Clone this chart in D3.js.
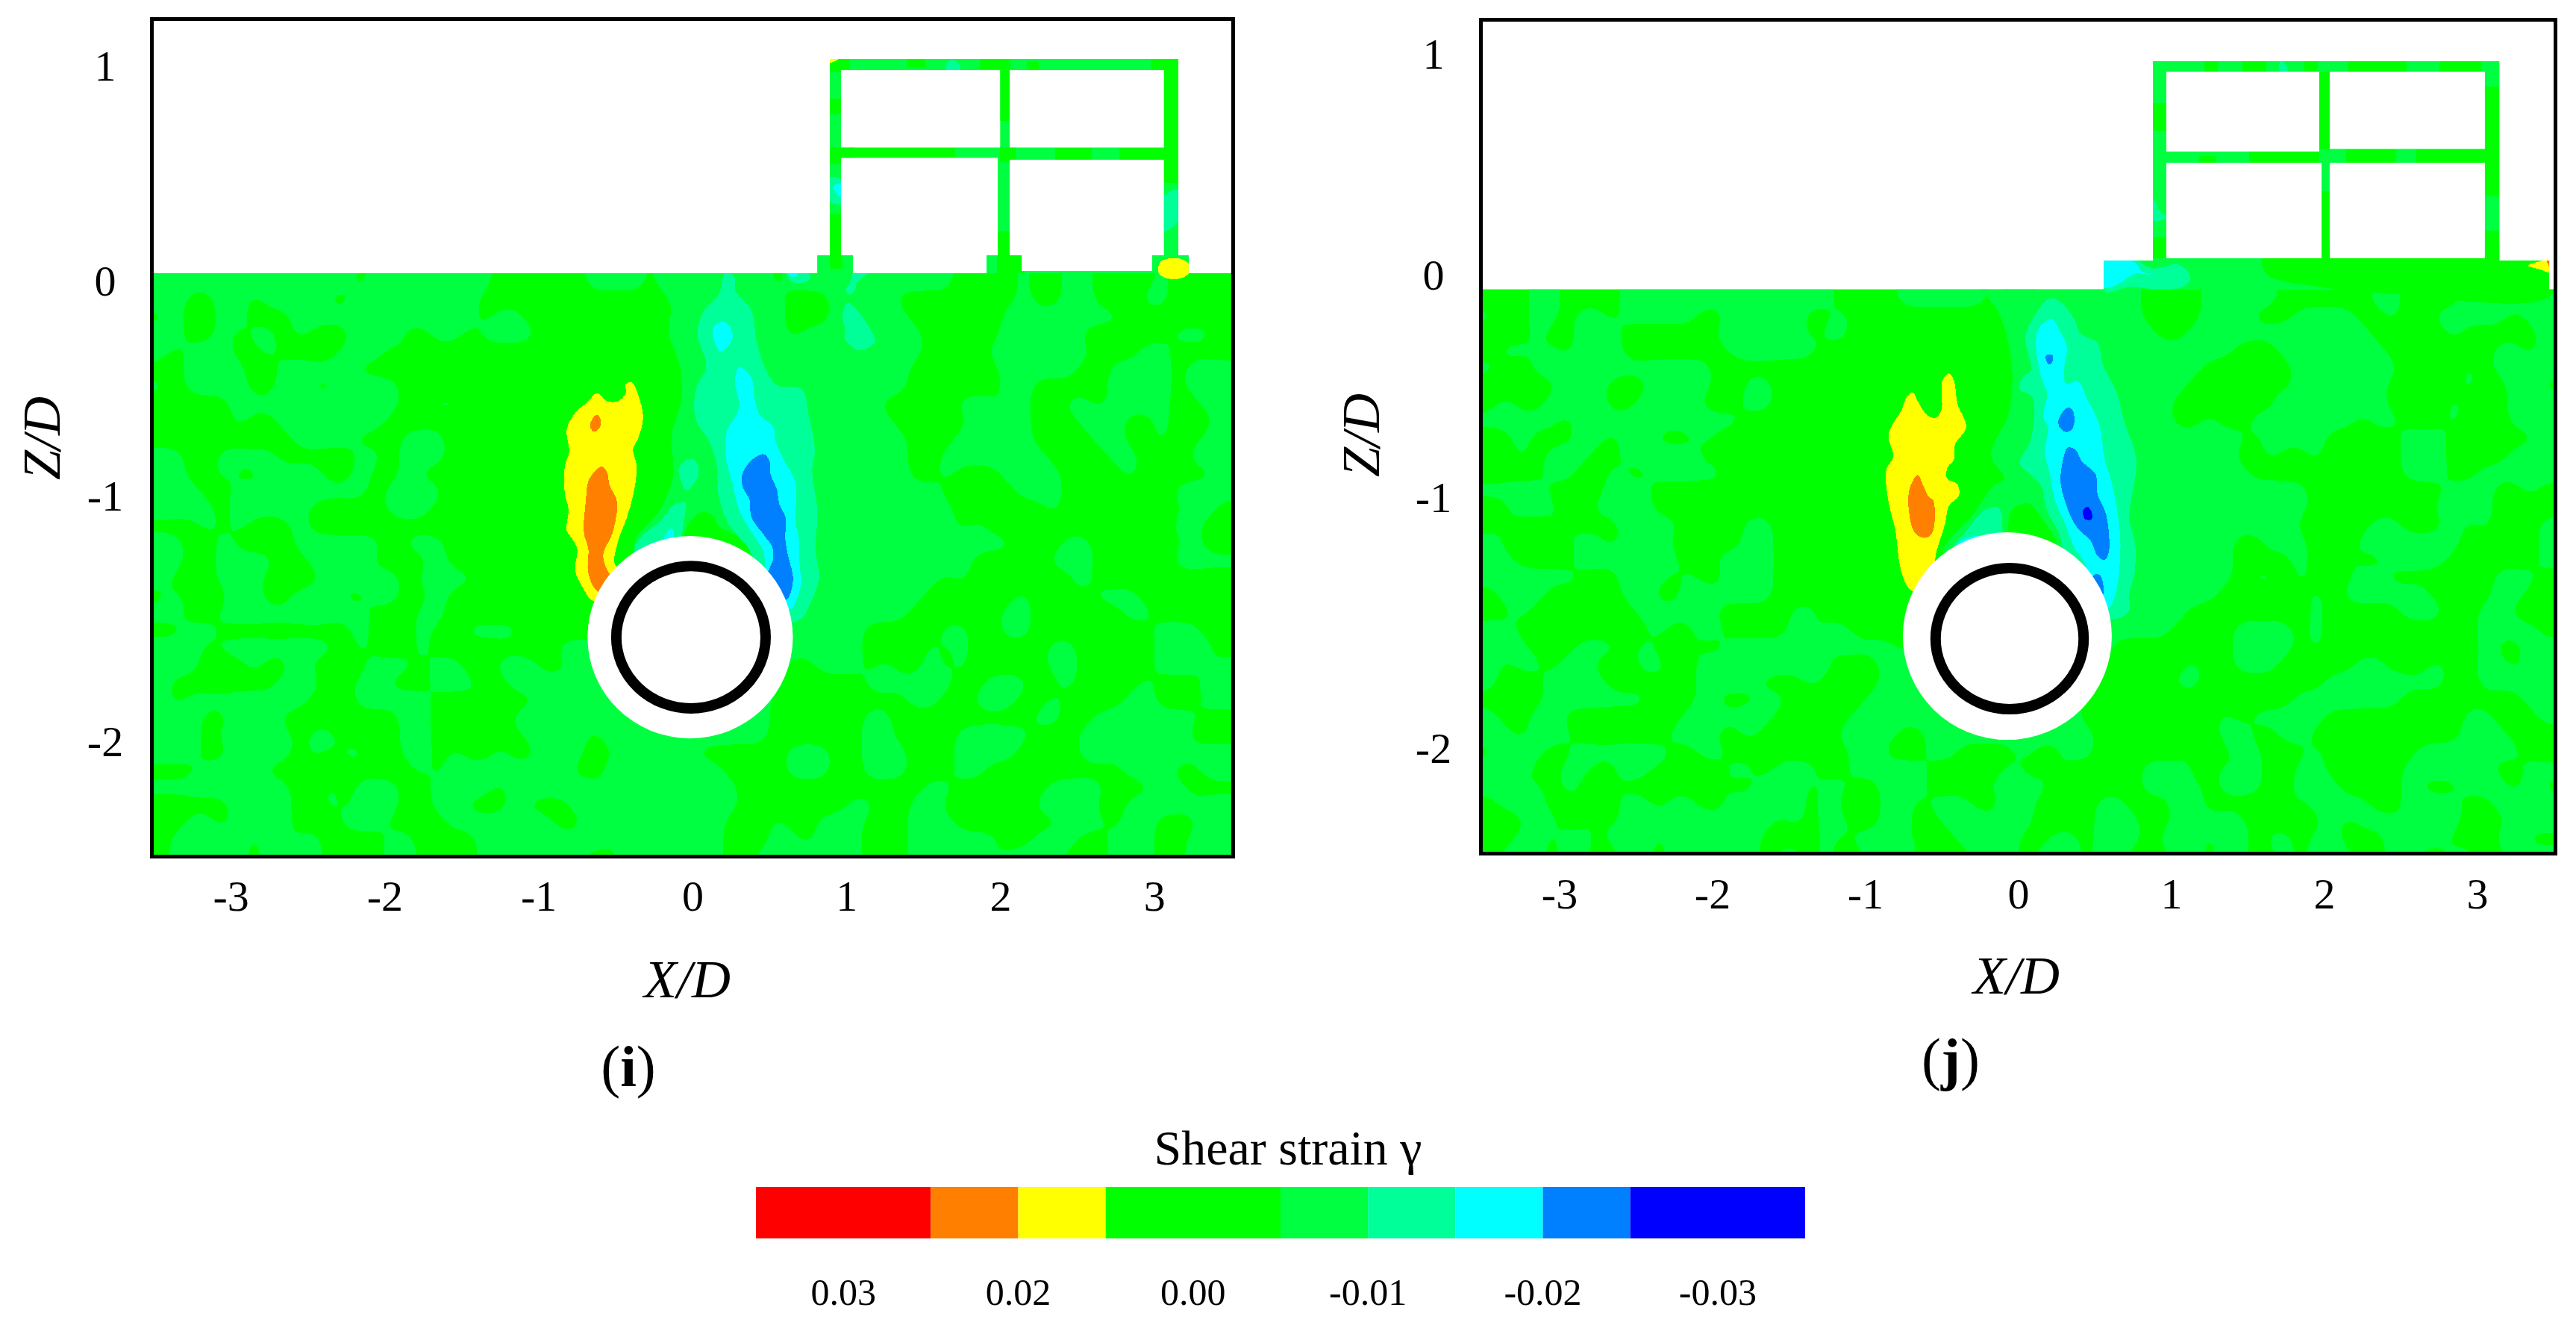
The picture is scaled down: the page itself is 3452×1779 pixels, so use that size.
<!DOCTYPE html>
<html>
<head>
<meta charset="utf-8">
<script src="https://cdn.jsdelivr.net/npm/d3@7"></script>
<style>
  body { margin: 0; background: #fff; }
  text { font-family: "Liberation Serif", serif; fill: #000; }
</style>
</head>
<body>
<div id="chart"></div>
<script>
// Shear strain bands, in legend order
var bandColors = ["#ff0000", "#ff8000", "#ffff00", "#00ff00", "#00ff40", "#00ff99", "#00ffff", "#0080ff", "#0000ff"];
var legendSpans = [2, 1, 1, 2, 1, 1, 1, 1, 2];
var legendLabels = ["0.03", "0.02", "0.00", "-0.01", "-0.02", "-0.03"];
var xTicks = [-3, -2, -1, 0, 1, 2, 3];
var zTicks = [1, 0, -1, -2];

// Background field, 0 = band 0.00, 1 = next band.
// One row per 0.075 Z/D, one column per 0.1 X/D, X/D < 0 and X/D > 0 kept apart
var fieldLeftI = [
"11111111111110111111110000001111011",
"11001101111001111111100000100000000",
"01001100011111111111101100000000000",
"11001011010001110011011110000000000",
"10111001000011101000000000000000000",
"00111100111110000000000000000000000",
"10111100110011110000000000000000000",
"00000111111111110011000000000000000",
"00000100111111100000000000000000000",
"00000000011110001110000000000000000",
"11001111000001101110000000000000000",
"11001001111001001000000000000000000",
"11100110111111011110000000000000000",
"11110111110000011100000000000000000",
"00010100010000000000000000000000000",
"11001000011111101110000000000000000",
"11001111001111000010000000000000000",
"10001110000111110111100000000000000",
"01000110011100110010000000000000000",
"11001111111111000110000000000000000",
"00110000000001010100111100000000000",
"11101111111101000100000000111111111",
"11100010010000111011001110011111111",
"10000000111001100011100111111111111",
"10111111110001111100010001111111111",
"11100111000000001100000111111111111",
"11101111101100001100000011110111111",
"11100111101011001101001001110011111",
"00011110000000000101111111100111111",
"11111111100101110011110111111011011",
"00000110100101110011000100011111111",
"00110111100011100001111111001111011",
"01111101011000011000010111111101111",
"01111101101000011010011011010011111"
];
var fieldRightI = [
"11111011111111111000010011000010000",
"11111100011110000000010011000110000",
"11111100011111000000111111110000000",
"11111101111111100000111110000001110",
"11111111111111100001111111000110000",
"11111111111111000000111110011110111",
"11111111111111000000110000011110111",
"11111111111100000111010011011110011",
"11111111111110000010110001110010001",
"11111111111111000111110000110010011",
"11111111111111001111111000011000111",
"11111111111111001000111100001000001",
"11111111111111110000011100000001111",
"11111111111111111000000100000000110",
"11111111111111111010000000000001100",
"11111111111111111111100011000000100",
"11111111111111111100000111000001111",
"11111111111111110100000001000000000",
"11111111111111100000010010111000000",
"11111111111111000000110000001100000",
"11111111111000001100110000000011100",
"11111111111000010100000110000011110",
"11111100111010010100000110000011101",
"11111100000111111001110010000100011",
"11111000000000110011100100001100011",
"11111000000110000000001100111111100",
"11111000000110000111110001111111000",
"00000011100111000111100001111111111",
"11000011100111000110000000001110011",
"11100000000000011000000111100011000",
"11100000001100110000001111001111111",
"11000100111000111000000011101100011",
"11000110111000111111001110011100111",
"11001111111000111110111100011100111"
];
var fieldLeftJ = [
"00011000011111111111111000011111101",
"10011011011111001111100100000000000",
"00010011100000011111101100000000000",
"01101011100000001111110000000000000",
"10011111111111100000000000000000000",
"00000111000111100110000000000000000",
"01001111001101000110000000000000000",
"11111011111111111000000000000000000",
"00100011011000100000000000000000000",
"00101110011111000000000000000000000",
"00001100100111110000000000000000000",
"11110000111000000000000000000000000",
"00111001111000010000000000000000000",
"01000100011110100110000000000000000",
"10001011011100000110000000000000000",
"11000011111110011110000000000000000",
"11111100011101001110000000000000000",
"01110010011001111110000000000000000",
"00100000001111100000110000000000000",
"11000000000100110000101100000000000",
"11100011101001001111110111101111111",
"10110110001100111111111000111111111",
"10001111000010111100010000111111111",
"00001111111000100011000001111111111",
"10011000000001111110000011111111111",
"11011100000011100100000111100111111",
"01110011111100110000000011000110000",
"11100110011010001101110011111000001",
"11010100100000010011101100111000011",
"01110010011011001111101000110111001",
"00011001011111111110101100110011111",
"00110110111011111100001011101001101",
"01110110011010101101101001110100111"
];
var fieldRightJ = [
"11111111000011111000000110000111111",
"11111111000011100011110010011111011",
"11111111100111111111111000001000001",
"11111111111111000111111100000001101",
"11111111111100000011111110000101111",
"11111111111000001011111100000100110",
"11111111110000000111111100001000111",
"11111111110010011111110110001000111",
"11111111111111101111000001110000001",
"11111111111111001001001001110000111",
"11111111111111100000000001110011111",
"11111111111111111110000000001110010",
"11111111111110111110010000011110000",
"11111111111111111100000110001010001",
"11111111111111001110001111111000001",
"11111111111111000010010011110000001",
"11111111111111011010001100000001110",
"11111111111110000001011111100001100",
"11111111111000000001000001110011000",
"11111111110000111101000000000011110",
"11111100000000111101000000000010011",
"11111100000100111000001100010011011",
"11111000001100000000111111110011111",
"11110000100000000011111110000000011",
"11110000000001011111000000000110001",
"11111000000001100110010000000111000",
"10011000000100110001000000111101100",
"00100000111001010011000001111110011",
"11000000111101110011100001000111010",
"10000110001100000101111001111001111",
"10000111001111100000101110111000111",
"00110111011101101101100011110001100",
"01110110001101100101110011001100111"
];

// Domain outlines and openings of the section, [X/D, Z/D]
var outlineI = [[-3.5,0],[.812,0],[.812,.077],[.892,.077],[.892,.921],[3.156,.921],[3.156,.077],[3.223,.077],[3.223,0],[3.5,0],[3.5,-2.5],[-3.5,-2.5]];
var holesI = [
  [[.965,.873],[2.000,.873],[2.000,.540],[.965,.540]],
  [[2.060,.873],[3.063,.873],[3.063,.540],[2.060,.540]],
  [[.965,.497],[1.983,.497],[1.983,.077],[1.910,.077],[1.910,0],[1.042,0],[1.042,.077],[.965,.077]],
  [[2.060,.489],[3.063,.489],[3.063,.077],[2.986,.077],[2.986,.010],[2.138,.010],[2.138,.077],[2.060,.077]]
];
var outlineJ = [[-3.5,-.073],[.560,-.073],[.560,.051],[.881,.051],[.881,.908],[3.145,.908],[3.145,.051],[3.471,.051],[3.471,-.073],[3.5,-.073],[3.5,-2.49],[-3.5,-2.49]];
var holesJ = [
  [[.968,.863],[1.968,.863],[1.968,.520],[.968,.520]],
  [[2.035,.863],[3.051,.863],[3.051,.530],[2.035,.530]],
  [[.968,.472],[1.983,.472],[1.983,.061],[.968,.061]],
  [[2.035,.472],[3.051,.472],[3.051,.061],[2.035,.061]]
];

// Band 0.00 patches in the structure, [x0, x1, z0, z1]
var patchesI = [
  [.892,1.023,.867,.921],[.892,.965,.682,.752],[.892,1.05,.468,.543],[.892,.965,.077,.254],
  [1.396,1.511,.886,.921],[1.865,2.066,.875,.921],[2.172,2.248,.873,.912],[2.976,3.156,.873,.921],
  [1.999,2.060,.656,.873],[1.999,2.100,.479,.543],[1.983,2.060,.077,.180],
  [.965,1.706,.497,.540],[2.354,2.593,.489,.540],[2.775,3.063,.489,.540],[3.063,3.156,.388,.873],
  [.892,.974,.020,.077],[1.98,2.15,0,.077]
];
var patchesJ = [
  [.881,.968,.610,.728],[.881,.968,.061,.150],
  [1.216,1.303,.864,.908],[1.467,1.620,.864,.908],[1.871,1.958,.864,.908],[2.155,2.537,.864,.908],[2.755,3.028,.864,.908],
  [1.968,2.035,.530,.863],[1.983,2.035,.061,.35],
  [1.183,1.292,.472,.50],[1.510,1.968,.472,.520],[2.144,2.47,.472,.530],[2.60,3.051,.472,.530],
  [3.051,3.145,.326,.80],[3.051,3.145,.128,.18]
];

// Traced band outlines for panel (i)
var lightWedgeI = [[-.256,.01],[-.143,-.142],[-.155,-.256],[-.079,-.407],[-.071,-.545],[-.135,-.694],[-.127,-.877],[-.208,-1.014],[-.378,-1.163],[-.3,-1.3],[.1,-1.3],[.1,.01]];
var pocketI = [[-.055,-1.129],[.010,-1.049],[.075,-1.026],[.139,-1.049],[.172,-1.089],[.285,-1.129],[.374,-1.198],[.026,-1.244]];
var haloI = [[.213,0],[.269,-.013],[.281,-.078],[.382,-.158],[.416,-.288],[.472,-.409],[.551,-.482],[.709,-.498],[.755,-.611],[.795,-.757],[.777,-.854],[.811,-1.016],[.800,-1.193],[.822,-1.315],[.754,-1.436],[.721,-1.476],[.653,-1.501],[.461,-1.436],[.382,-1.201],[.235,-1.080],[.168,-.951],[.156,-.821],[.111,-.725],[.021,-.627],[.021,-.498],[.089,-.401],[.032,-.256],[.077,-.158],[.168,-.094]];
var haloLeftI = [[-.378,-1.198],[-.345,-1.141],[-.200,-1.060],[-.135,-1.003],[-.047,-.986],[-.055,-1.060],[-.079,-1.135],[-.135,-1.175],[-.329,-1.244]];
var haloBlobI = [[-.087,-.831],[-.006,-.797],[.039,-.831],[.026,-.888],[-.038,-.934],[-.071,-.900]];
var haloTopAI = [[.610,.01],[.744,.01],[.763,-.024],[.725,-.040],[.648,-.037],[.614,-.013]];
var haloTopBI = [[1.051,.01],[1.156,.01],[1.070,-.040],[1.055,-.072],[1.016,-.093],[.997,-.072],[1.022,-.040]];
var haloTopCI = [[1.003,-.128],[1.036,-.136],[1.099,-.184],[1.175,-.265],[1.185,-.297],[1.080,-.332],[.993,-.286],[.990,-.238],[.974,-.190]];
var haloColRI = [[3.063,.329],[3.101,.351],[3.155,.358],[3.155,.228],[3.063,.180]];
var haloColLI = [[.892,.410],[.965,.404],[.965,.297],[.892,.310]];
var haloBeamI = [[1.654,.907],[1.712,.912],[1.741,.873],[1.654,.873]];
var cyanI = [[.303,-.404],[.382,-.450],[.405,-.547],[.439,-.611],[.524,-.660],[.540,-.725],[.596,-.805],[.669,-.902],[.669,-1.080],[.687,-1.121],[.698,-1.274],[.709,-1.323],[.675,-1.404],[.642,-1.444],[.518,-1.404],[.472,-1.258],[.461,-1.194],[.382,-1.113],[.303,-1.016],[.258,-.902],[.213,-.773],[.224,-.676],[.303,-.579],[.276,-.466]];
var cyanTopI = [[.190,-.207],[.235,-.223],[.262,-.272],[.224,-.320],[.179,-.337],[.145,-.296],[.134,-.239]];
var cyanLeftI = [[-.184,-1.141],[-.135,-1.095],[-.119,-1.135],[-.150,-1.17]];
var cyanSurfI = [[.620,.01],[.687,.01],[.668,-.016],[.633,-.013]];
var cyanColI = [[.917,.375],[.965,.383],[.965,.329],[.945,.335]];
var blueI = [[.461,-.778],[.499,-.805],[.506,-.862],[.551,-.935],[.563,-.991],[.603,-1.048],[.603,-1.145],[.619,-1.210],[.653,-1.307],[.642,-1.363],[.608,-1.404],[.472,-1.339],[.524,-1.226],[.518,-1.177],[.472,-1.132],[.382,-1.048],[.371,-.975],[.326,-.919],[.321,-.870],[.382,-.805]];
var yellowI = [[-.620,-.516],[-.556,-.550],[-.483,-.550],[-.434,-.516],[-.434,-.476],[-.394,-.470],[-.345,-.539],[-.321,-.625],[-.354,-.711],[-.386,-.757],[-.362,-.831],[-.386,-.957],[-.426,-1.049],[-.483,-1.152],[-.507,-1.244],[-.459,-1.301],[-.572,-1.370],[-.644,-1.410],[-.717,-1.347],[-.762,-1.278],[-.749,-1.186],[-.782,-1.141],[-.817,-1.106],[-.806,-1.014],[-.830,-.946],[-.830,-.831],[-.801,-.768],[-.817,-.671],[-.757,-.596],[-.685,-.556]];
var yellowFootI = [[3.043,.051],[3.158,.064],[3.222,.040],[3.225,0],[3.158,-.024],[3.063,-.018],[3.024,.008]];
var yellowCornerI = [[.892,.921],[.949,.921],[.892,.905]];
var orangeI = [[-.588,-.831],[-.556,-.854],[-.539,-.911],[-.491,-.980],[-.520,-1.118],[-.580,-1.209],[-.547,-1.284],[-.459,-1.335],[-.612,-1.370],[-.677,-1.289],[-.677,-1.186],[-.706,-1.112],[-.693,-.980],[-.677,-.894],[-.628,-.848]];
var orangeTopI = [[-.620,-.608],[-.596,-.631],[-.604,-.665],[-.640,-.682],[-.665,-.659],[-.648,-.623]];

// Traced band outlines for panel (j)
var darkBaseJ = [[1.6,.07],[3.48,.07],[3.48,-.10],[2.4,-.09],[1.95,-.06],[1.63,-.01]];
var lightWedgeJ = [[-.24,-.05],[-.116,-.186],[-.041,-.403],[-.06,-.6],[-.178,-.786],[-.091,-.886],[-.166,-.919],[-.290,-1.036],[-.489,-1.203],[-.3,-1.3],[.1,-1.3],[.1,-.05]];
var pocketJ = [[-.066,-1.12],[-.041,-1.019],[0,-1.0],[.070,-.994],[.151,-1.053],[.254,-1.161],[.3,-1.25],[0,-1.25]];
var haloJ = [[.208,-.111],[.277,-.128],[.369,-.203],[.404,-.261],[.519,-.303],[.553,-.394],[.645,-.519],[.691,-.636],[.772,-.803],[.726,-1.053],[.765,-1.169],[.760,-1.294],[.726,-1.386],[.726,-1.453],[.668,-1.483],[.594,-1.486],[.323,-1.253],[.266,-1.119],[.185,-1.019],[.151,-.919],[.082,-.869],[.013,-.828],[.013,-.803],[.082,-.719],[.093,-.536],[.013,-.503],[.024,-.453],[.082,-.419],[.047,-.278],[.105,-.186]];
var haloLeftJ = [[-.427,-1.186],[-.340,-1.111],[-.215,-1.019],[-.128,-1.011],[-.108,-1.119],[-.190,-1.203],[-.390,-1.253]];
var haloSurfJ = [[.562,.052],[.772,.052],[.875,.017],[1.048,.034],[1.128,-.020],[1.082,-.061],[.898,-.073],[.737,-.061],[.576,-.086],[.562,-.07]];
var haloColJ = [[.881,.32],[.92,.27],[.968,.235],[.881,.224]];
var haloBeamJ = [[1.713,.908],[1.73,.908],[1.762,.864],[1.713,.864]];
var cyanJ = [[.220,-.200],[.266,-.245],[.318,-.320],[.300,-.420],[.312,-.478],[.392,-.470],[.450,-.544],[.530,-.653],[.565,-.803],[.611,-.903],[.668,-1.153],[.634,-1.386],[.588,-1.444],[.438,-1.319],[.438,-1.253],[.369,-1.186],[.300,-1.069],[.243,-.986],[.208,-.869],[.174,-.769],[.197,-.669],[.162,-.619],[.190,-.519],[.151,-.453],[.116,-.303],[.139,-.236]];
var cyanLeftJ = [[-.390,-1.161],[-.220,-1.135],[-.25,-1.2],[-.39,-1.25]];
var cyanSurfJ = [[.562,.052],[.760,.044],[.806,.005],[.880,-.011],[.760,-.006],[.668,-.045],[.562,-.066]];
var blueAJ = [[.180,-.358],[.226,-.356],[.222,-.386],[.199,-.396]];
var blueBJ = [[.323,-.581],[.358,-.594],[.358,-.669],[.312,-.686],[.266,-.661],[.266,-.628]];
var blueCJ = [[.323,-.753],[.374,-.761],[.415,-.811],[.507,-.869],[.519,-.953],[.576,-1.044],[.592,-1.203],[.565,-1.236],[.519,-1.219],[.473,-1.153],[.392,-1.103],[.335,-1.036],[.277,-.903],[.289,-.819]];
var blueEJ = [[.496,-1.299],[.537,-1.303],[.553,-1.386],[.472,-1.36]];
var deepBlueJ = [[.450,-1.006],[.479,-1.028],[.479,-1.061],[.438,-1.061],[.422,-1.028]];
var yellowJ = [[-.689,-.515],[-.656,-.554],[-.600,-.610],[-.543,-.626],[-.502,-.591],[-.497,-.468],[-.453,-.434],[-.421,-.462],[-.396,-.567],[-.339,-.665],[-.413,-.739],[-.421,-.806],[-.461,-.837],[-.465,-.886],[-.396,-.911],[-.388,-.960],[-.453,-1.003],[-.478,-1.082],[-.526,-1.181],[-.543,-1.242],[-.510,-1.303],[-.689,-1.371],[-.762,-1.291],[-.803,-1.107],[-.832,-1.033],[-.860,-.935],[-.860,-.843],[-.816,-.794],[-.848,-.696],[-.762,-.591],[-.730,-.536]];
var yellowCornerJ = [[3.331,.03],[3.405,.047],[3.48,.06],[3.48,.002],[3.405,.014]];
var orangeJ = [[-.656,-.870],[-.624,-.911],[-.583,-.966],[-.556,-.978],[-.546,-1.070],[-.567,-1.125],[-.616,-1.141],[-.676,-1.119],[-.713,-1.033],[-.710,-.929]];
var orangeCornerJ = [[3.451,.06],[3.48,.06],[3.48,.02]];

// [band index, outline], painted in this order
var layersI = [[4,lightWedgeI],[3,pocketI],[5,haloI],[5,haloLeftI],[5,haloBlobI],[5,haloTopAI],[5,haloTopBI],[5,haloTopCI],[5,haloColRI],[5,haloColLI],[5,haloBeamI],
  [6,cyanI],[6,cyanTopI],[6,cyanLeftI],[6,cyanSurfI],[6,cyanColI],[7,blueI],
  [2,yellowI],[2,yellowFootI],[2,yellowCornerI],[1,orangeI],[1,orangeTopI]];
var layersJ = [[3,darkBaseJ],[4,lightWedgeJ],[3,pocketJ],[5,haloJ],[5,haloLeftJ],[5,haloSurfJ],[5,haloColJ],[5,haloBeamJ],
  [6,cyanJ],[6,cyanLeftJ],[6,cyanSurfJ],[7,blueAJ],[7,blueBJ],[7,blueCJ],[7,blueEJ],[8,deepBlueJ],
  [2,yellowJ],[2,yellowCornerJ],[1,orangeJ],[1,orangeCornerJ]];

// Tunnel position, [X/D, Z/D, radius X/D, radius Z/D]
var tunnelI = [-.015, -1.565, .667, .435];
var ringI = [-.010, -1.565, .485, .306];
var tunnelJ = [-.071, -1.563, .683, .446];
var ringJ = [-.056, -1.574, .484, .303];

var width = 3452;
var height = 1779;
var svg = d3.select("#chart").append("svg")
  .attr("width", width)
  .attr("height", height);

function drawPanel(p) {
  var x = d3.scaleLinear().domain([-3.5, 3.5]).range(p.xRange);
  var z = d3.scaleLinear().domain([0, p.zBottom]).range(p.zRange);
  var zLabel = d3.scaleLinear().domain(zTicks).range(p.zTickRange);
  var g = svg.append("g");

  var closed = d3.line().x(function(d) { return x(d[0]); }).y(function(d) { return z(d[1]); }).curve(d3.curveLinearClosed);
  var smooth = d3.line().x(function(d) { return x(d[0]); }).y(function(d) { return z(d[1]); }).curve(d3.curveCatmullRomClosed.alpha(0.5));

  g.append("clipPath").attr("id", p.id)
    .append("path")
    .attr("clip-rule", "evenodd")
    .attr("d", [p.outline].concat(p.holes).map(function(r) { return closed(r); }).join(""));

  var field = g.append("g").attr("clip-path", "url(#" + p.id + ")").attr("shape-rendering", "crispEdges");
  var top = p.frame[1];

  field.append("rect")
    .attr("x", x(-3.5)).attr("y", top)
    .attr("width", x(3.5) - x(-3.5)).attr("height", z(p.zBottom) - top)
    .attr("fill", bandColors[3]);

  // upsample the read grid and blur it a little, so that the 0.5 contour comes out rounded
  var f = 5, dx = 0.1, dz = 0.075;
  var cols = 72, rows = p.left.length + 2;
  var values = new Float64Array(cols * f * rows * f);
  for (var r = 0; r < rows * f; r++) {
    var rk = Math.max(0, Math.min(p.left.length - 1, Math.floor(r / f) - 1));
    var row = p.left[rk] + p.right[rk];
    for (var c = 0; c < cols * f; c++) {
      var k = Math.max(0, Math.min(69, Math.floor(c / f) - 1));
      values[r * cols * f + c] = row.charAt(k) === "1" ? 1 : 0;
    }
  }
  d3.blur2({data: values, width: cols * f, height: rows * f}, 2.5);
  var shapes = d3.contours().size([cols * f, rows * f]).thresholds([0.5])(values);
  var gridPath = d3.geoPath().projection(d3.geoTransform({
    point: function(cx, cy) {
      this.stream.point(x(-3.5 - dx + cx / f * dx), z(p.zStart + dz - cy / f * dz));
    }
  }));
  field.append("path").attr("d", gridPath(shapes[0])).attr("fill", bandColors[4]);

  // everything above the soil block is the structure, light band with dark patches
  field.append("rect")
    .attr("x", x(-3.5)).attr("y", top)
    .attr("width", x(3.5) - x(-3.5)).attr("height", z(p.zStart) - top)
    .attr("fill", bandColors[4]);

  field.selectAll("rect.patch")
    .data(p.patches)
    .enter().append("rect")
    .attr("class", "patch")
    .attr("x", function(d) { return x(d[0]); })
    .attr("y", function(d) { return z(d[3]); })
    .attr("width", function(d) { return x(d[1]) - x(d[0]); })
    .attr("height", function(d) { return z(d[2]) - z(d[3]); })
    .attr("fill", bandColors[3]);

  field.selectAll("path.band")
    .data(p.layers)
    .enter().append("path")
    .attr("class", "band")
    .attr("d", function(d) { return smooth(d[1]); })
    .attr("fill", function(d) { return bandColors[d[0]]; });

  // tunnel void and lining
  g.append("ellipse")
    .attr("cx", x(p.tunnel[0])).attr("cy", z(p.tunnel[1]))
    .attr("rx", x(p.tunnel[2]) - x(0)).attr("ry", z(-p.tunnel[3]) - z(0))
    .attr("fill", "#fff");
  g.append("ellipse")
    .attr("cx", x(p.ring[0])).attr("cy", z(p.ring[1]))
    .attr("rx", x(p.ring[2]) - x(0)).attr("ry", z(-p.ring[3]) - z(0))
    .attr("fill", "none").attr("stroke", "#000").attr("stroke-width", 14);

  g.append("rect")
    .attr("x", p.frame[0] - 2.5).attr("y", p.frame[1] - 2.5)
    .attr("width", p.frame[2] - p.frame[0] + 5).attr("height", p.frame[3] - p.frame[1] + 5)
    .attr("fill", "none").attr("stroke", "#000").attr("stroke-width", 5);

  var xAxis = g.append("g")
    .attr("transform", "translate(0," + p.xTickY + ")")
    .call(d3.axisBottom(x).tickValues(xTicks).tickSize(0).tickFormat(function(d) { return String(d); }));
  var zAxis = g.append("g")
    .attr("transform", "translate(" + p.zTickX + ",0)")
    .call(d3.axisLeft(zLabel).tickValues(zTicks).tickSize(0).tickFormat(function(d) { return String(d); }));
  [xAxis, zAxis].forEach(function(a) {
    a.select(".domain").remove();
    a.selectAll("text")
      .attr("x", 0).attr("y", 0).attr("dy", 0)
      .attr("text-anchor", "middle")
      .style("font-family", "'Liberation Serif', serif")
      .style("font-size", "58px");
  });

  g.append("text")
    .attr("x", p.xTitle[0]).attr("y", p.xTitle[1])
    .attr("text-anchor", "middle")
    .style("font-size", "72px").style("font-style", "italic")
    .text("X/D");
  g.append("text")
    .attr("transform", "translate(" + p.zTitle[0] + "," + p.zTitle[1] + ") rotate(-90)")
    .attr("text-anchor", "middle")
    .style("font-size", "72px").style("font-style", "italic")
    .text("Z/D");

  var tag = g.append("text")
    .attr("x", p.tag[0]).attr("y", p.tag[1])
    .attr("text-anchor", "middle")
    .style("font-size", "78px");
  tag.append("tspan").text("(");
  tag.append("tspan").style("font-weight", "bold").text(p.tag[2]);
  tag.append("tspan").text(")");
}

drawPanel({
  id: "clipI", left: fieldLeftI, right: fieldRightI, outline: outlineI, holes: holesI, patches: patchesI, layers: layersI,
  tunnel: tunnelI, ring: ringI,
  xRange: [206, 1650], zRange: [366, 1145], zBottom: -2.5, zStart: 0,
  frame: [206, 28, 1650, 1145],
  zTickRange: [107, 395, 683, 1012], xTickY: 1220, zTickX: 141,
  xTitle: [921, 1336], zTitle: [80, 587], tag: [842, 1455, "i"]
});

drawPanel({
  id: "clipJ", left: fieldLeftJ, right: fieldRightJ, outline: outlineJ, holes: holesJ, patches: patchesJ, layers: layersJ,
  tunnel: tunnelJ, ring: ringJ,
  xRange: [1987, 3422], zRange: [365, 1141], zBottom: -2.49, zStart: -.073,
  frame: [1987, 29, 3422, 1141],
  zTickRange: [91, 387, 685, 1021], xTickY: 1217, zTickX: 1921,
  xTitle: [2702, 1331], zTitle: [1848, 583], tag: [2614, 1445, "j"]
});

// Legend
var slots = d3.sum(legendSpans);
var legendX = d3.scaleLinear().domain([0, slots]).range([1013, 2419]);
var starts = d3.cumsum([0].concat(legendSpans));

svg.append("g").selectAll("rect")
  .data(bandColors)
  .enter().append("rect")
  .attr("x", function(d, i) { return legendX(starts[i]); })
  .attr("y", 1590)
  .attr("width", function(d, i) { return legendX(starts[i + 1]) - legendX(starts[i]); })
  .attr("height", 69)
  .attr("fill", function(d) { return d; });

svg.append("g").selectAll("text")
  .data(legendLabels)
  .enter().append("text")
  .attr("x", function(d, i) { return legendX(2 * i + 1); })
  .attr("y", 1748)
  .attr("text-anchor", "middle")
  .style("font-size", "50px")
  .text(function(d) { return d; });

svg.append("text")
  .attr("x", 1726).attr("y", 1560)
  .attr("text-anchor", "middle")
  .style("font-size", "66px")
  .text("Shear strain γ");
</script>
</body>
</html>
